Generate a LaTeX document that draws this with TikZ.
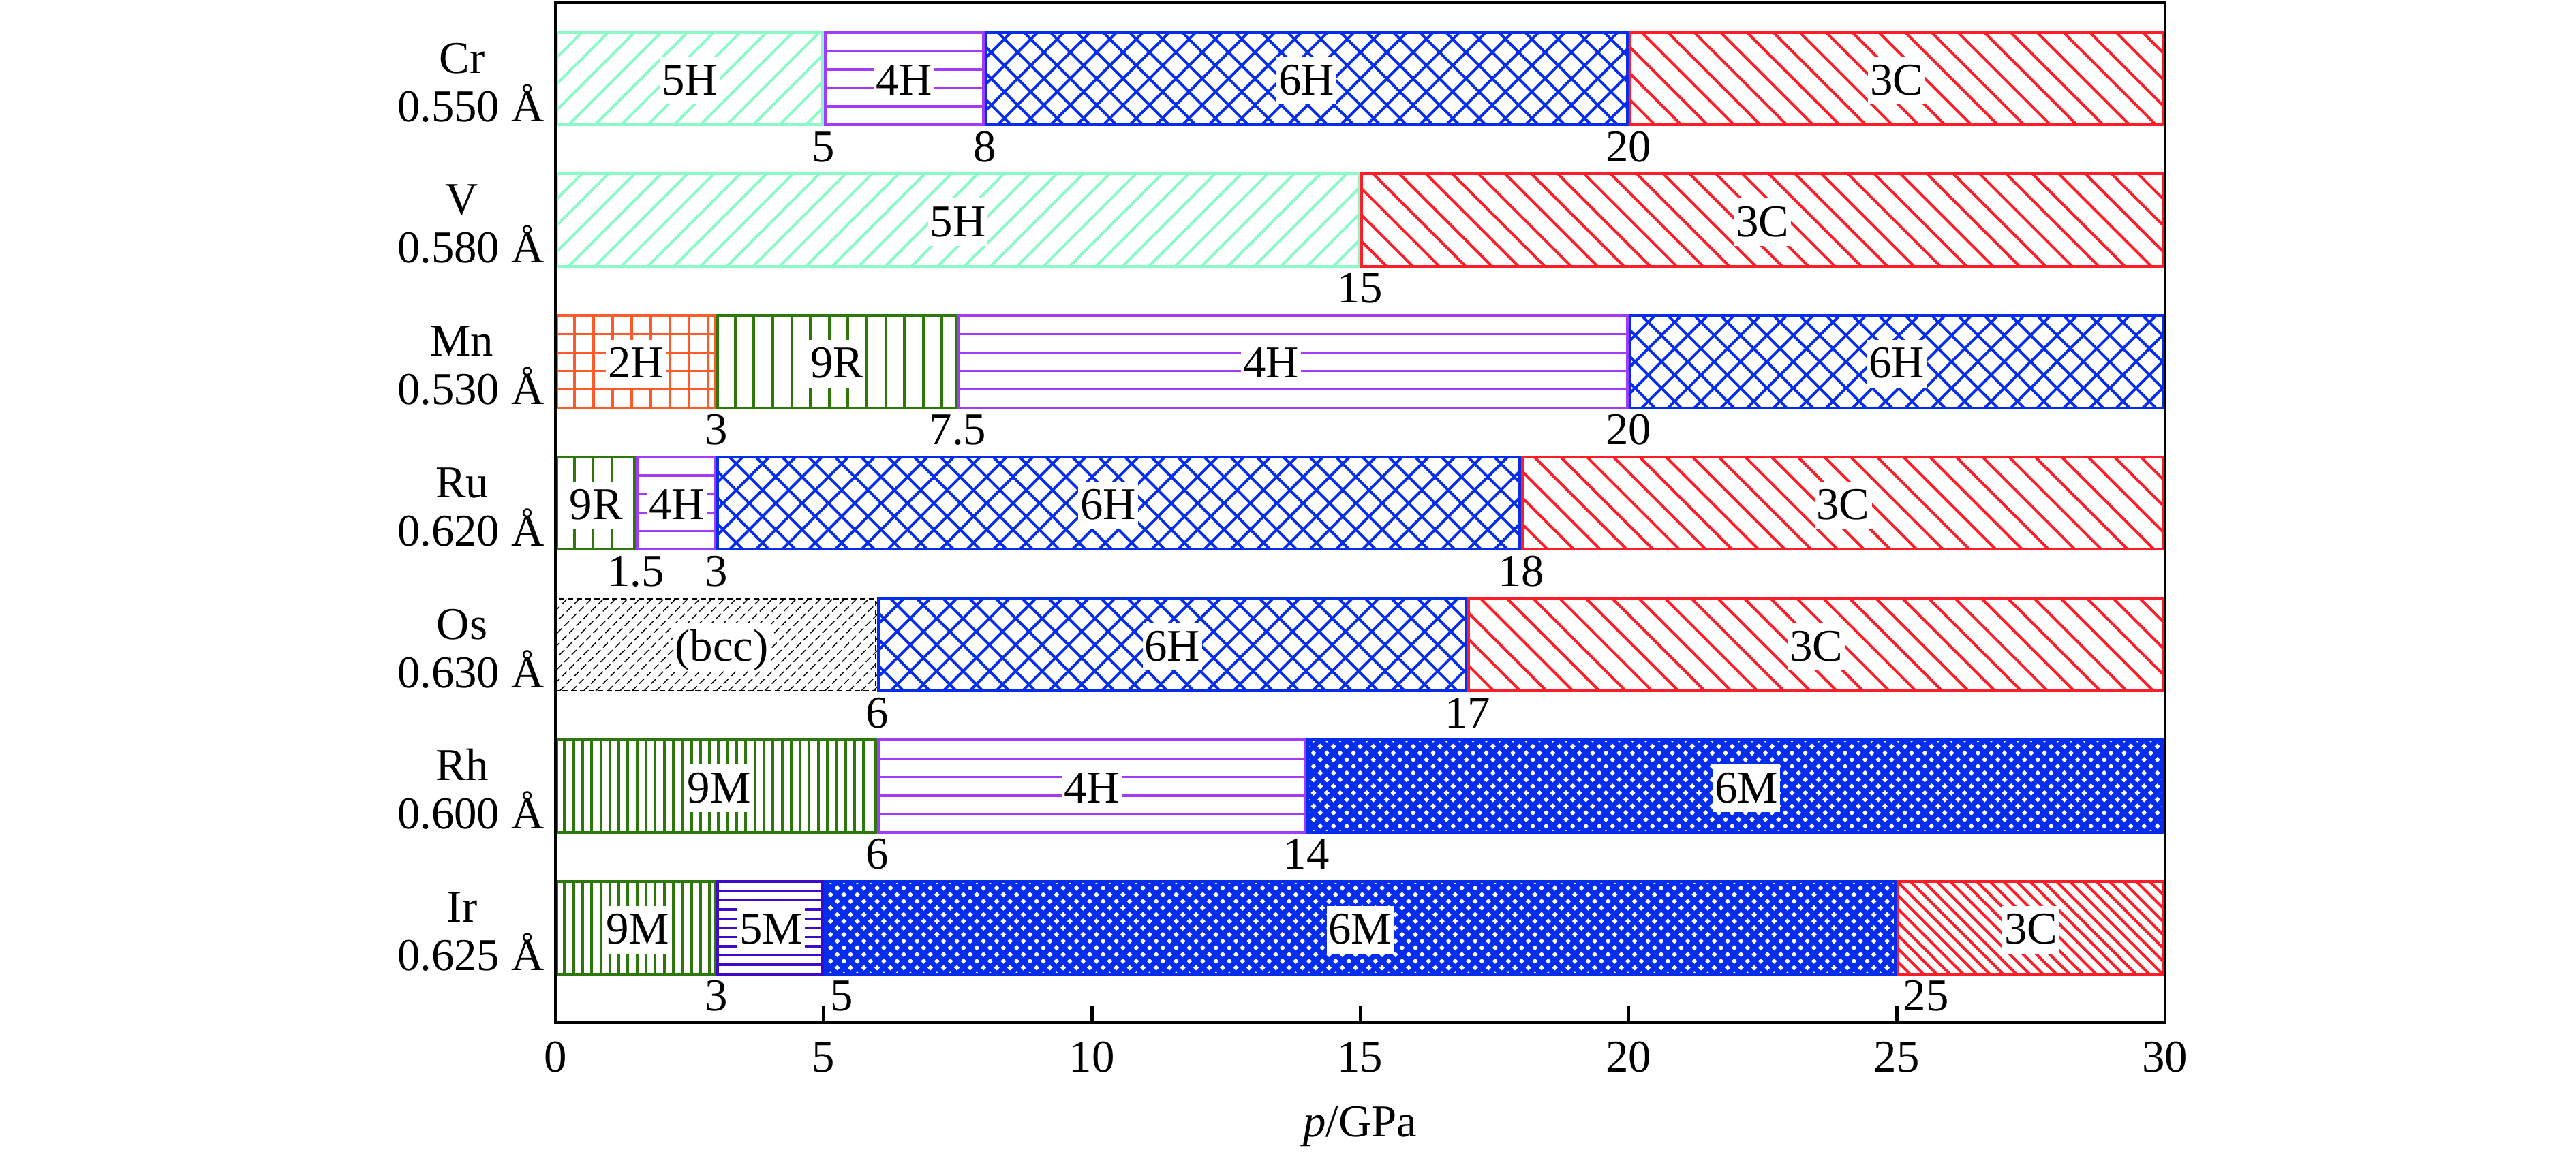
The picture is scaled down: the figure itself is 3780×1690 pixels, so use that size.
\documentclass[tikz,border=0pt]{standalone}
\usepackage{fontspec}
\setmainfont{Liberation Serif}
\definecolor{cgf}{RGB}{140,250,200}
\definecolor{cpu}{RGB}{160,60,250}
\definecolor{cbl}{RGB}{5,45,235}
\definecolor{crd}{RGB}{255,30,40}
\definecolor{cor}{RGB}{255,90,40}
\definecolor{cgr}{RGB}{45,120,10}
\definecolor{cin}{RGB}{60,10,200}
\tikzset{
  lab/.style={font=\fontsize{19pt}{23pt}\selectfont, inner sep=0pt},
  boxlab/.style={lab, fill=white, inner xsep=0.03cm, inner ysep=0pt,
    text height=0.56cm, text depth=0.14cm, anchor=base},
  hatchline/.style={line width=0.04cm},
  axisline/.style={line width=0.045cm, black},
}
% ---------- patterns (use \xa,\xb,\ya,\yb) ----------
\newcommand\patNE[2]{%
  \pgfmathsetmacro\xs{\xa-135.5}\pgfmathsetmacro\xt{\xs+#2}%
  \foreach \q in {\xs,\xt,...,\xb} \draw[#1,hatchline] (\q,\yb) -- ++(135.5,-135.5);}
\newcommand\patSE[2]{%
  \pgfmathsetmacro\xs{\xa-135.5}\pgfmathsetmacro\xt{\xs+#2}%
  \foreach \q in {\xs,\xt,...,\xb} \draw[#1,hatchline] (\q,\ya) -- ++(135.5,135.5);}
\newcommand\patfh[1]{\patNE{#1}{38.7}}
\newcommand\pattc[1]{\patSE{#1}{38.7}}
\newcommand\pattcd[1]{\patSE{#1}{19.5}}
\newcommand\patcross[1]{\patNE{#1}{38.7}\patSE{#1}{38.7}}
\newcommand\patcrossd[1]{%
  \begin{scope}[hatchline/.style={line width=0.078cm}]
  \patNE{#1}{19.5}\patSE{#1}{19.5}\end{scope}}
\newcommand\pathor[1]{%
  \foreach \k in {1,...,4} \draw[#1,line width=0.035cm] (\xa,{\ya+27.1*\k}) -- (\xb,{\ya+27.1*\k});}
\newcommand\pathord[1]{%
  \foreach \k in {1,...,9} \draw[#1,line width=0.035cm] (\xa,{\ya+13.55*\k}) -- (\xb,{\ya+13.55*\k});}
\newcommand\patV[2]{%
  \pgfmathsetmacro\xs{\xa+#2}\pgfmathsetmacro\xt{\xs+#2}\pgfmathsetmacro\xe{\xb-10}%
  \foreach \q in {\xs,\xt,...,\xe} \draw[#1,line width=0.04cm] (\q,\ya) -- (\q,\yb);}
\newcommand\patvert[1]{\patV{#1}{27.6}}
\newcommand\patvertd[1]{\patV{#1}{13.3}}
\newcommand\patgrid[1]{\patV{#1}{28}\pathor{#1}}
\newcommand\patbcc[1]{%
  \begin{scope}[hatchline/.style={line width=0.014cm, dash pattern=on 0.1cm off 0.05cm}]
  \patNE{#1}{17.7}\end{scope}}
% ---------- one phase segment ----------
\newcommand\phaseseg[6][line width=0.04cm]{%
  \pgfmathsetmacro\xa{815+78.73*(#3)}%
  \pgfmathsetmacro\xb{815+78.73*(#4)}%
  \pgfmathsetmacro\ya{47.7+207.75*(#2)}%
  \pgfmathsetmacro\yb{\ya+135.5}%
  \begin{scope}
    \clip (\xa,\ya) rectangle (\xb,\yb);
    \csname pat#5\endcsname{#6}%
  \end{scope}
  \draw[#6,#1] ({\xa+2},\ya) rectangle ({\xb-2},\yb);}
% phase label inside a bar: name,row,p,text
\newcommand\plab[4]{%
  \node[boxlab] (#1) at ({815+78.73*(#3)},{47.7+207.75*(#2)+67.75+24}) {#4};}
% boundary label below a bar: name,row,p,text
\newcommand\blab[4]{%
  \node[lab,anchor=base] (#1) at ({815+78.73*(#3)},{47.7+207.75*(#2)+135.5+54}) {#4};}
\newcommand\blabr[4]{%
  \node[lab,anchor=base west] (#1) at ({815+78.73*(#3)+9},{47.7+207.75*(#2)+135.5+54}) {#4};}
% row name and radius: row, name, radius
\newcommand\rowlab[3]{%
  \node[lab,anchor=base] (n#2) at (678,{47.7+207.75*(#1)+59.5}) {#2};
  \node[lab,anchor=base east] (r#2) at (799,{47.7+207.75*(#1)+130.5}) {#3};}
\begin{document}
\begin{tikzpicture}[x=0.01cm,y=-0.01cm]
\useasboundingbox (0,0) rectangle (3780,1690);
% Cr
\phaseseg{0}{0}{5}{fh}{cgf}
\phaseseg{0}{5}{8}{hor}{cpu}
\phaseseg{0}{8}{20}{cross}{cbl}
\phaseseg{0}{20}{30}{tc}{crd}
\plab{Cra}{0}{2.5}{5H}\plab{Crb}{0}{6.5}{4H}\plab{Crc}{0}{14}{6H}\plab{Crd}{0}{25}{3C}
\blab{Crx}{0}{5}{5}\blab{Cry}{0}{8}{8}\blab{Crz}{0}{20}{20}
\rowlab{0}{Cr}{0.550 Å}
% V
\phaseseg{1}{0}{15}{fh}{cgf}
\phaseseg{1}{15}{30}{tc}{crd}
\plab{Va}{1}{7.5}{5H}\plab{Vb}{1}{22.5}{3C}
\blab{Vx}{1}{15}{15}
\rowlab{1}{V}{0.580 Å}
% Mn
\phaseseg{2}{0}{3}{grid}{cor}
\phaseseg{2}{3}{7.5}{vert}{cgr}
\phaseseg{2}{7.5}{20}{hor}{cpu}
\phaseseg{2}{20}{30}{cross}{cbl}
\plab{Mna}{2}{1.5}{2H}\plab{Mnb}{2}{5.25}{9R}\plab{Mnc}{2}{13.34}{4H}\plab{Mnd}{2}{25}{6H}
\blab{Mnx}{2}{3}{3}\blab{Mny}{2}{7.5}{7.5}\blab{Mnz}{2}{20}{20}
\rowlab{2}{Mn}{0.530 Å}
% Ru
\phaseseg{3}{0}{1.5}{vert}{cgr}
\phaseseg{3}{1.5}{3}{hor}{cpu}
\phaseseg{3}{3}{18}{cross}{cbl}
\phaseseg{3}{18}{30}{tc}{crd}
\plab{Rua}{3}{0.76}{9R}\plab{Rub}{3}{2.26}{4H}\plab{Ruc}{3}{10.3}{6H}\plab{Rud}{3}{24}{3C}
\blab{Rux}{3}{1.5}{1.5}\blab{Ruy}{3}{3}{3}\blab{Ruz}{3}{18}{18}
\rowlab{3}{Ru}{0.620 Å}
% Os
\phaseseg[line width=0.02cm,dash pattern=on 0.08cm off 0.05cm]{4}{0}{6}{bcc}{black}
\phaseseg{4}{6}{17}{cross}{cbl}
\phaseseg{4}{17}{30}{tc}{crd}
\plab{Osa}{4}{3.1}{(bcc)}\plab{Osb}{4}{11.5}{6H}\plab{Osc}{4}{23.5}{3C}
\blab{Osx}{4}{6}{6}\blab{Osy}{4}{17}{17}
\rowlab{4}{Os}{0.630 Å}
% Rh
\phaseseg{5}{0}{6}{vertd}{cgr}
\phaseseg{5}{6}{14}{hor}{cpu}
\phaseseg{5}{14}{30}{crossd}{cbl}
\plab{Rha}{5}{3.05}{9M}\plab{Rhb}{5}{10}{4H}\plab{Rhc}{5}{22.2}{6M}
\blab{Rhx}{5}{6}{6}\blab{Rhy}{5}{14}{14}
\rowlab{5}{Rh}{0.600 Å}
% Ir
\phaseseg{6}{0}{3}{vertd}{cgr}
\phaseseg{6}{3}{5}{hord}{cin}
\phaseseg{6}{5}{25}{crossd}{cbl}
\phaseseg{6}{25}{30}{tcd}{crd}
\plab{Ira}{6}{1.53}{9M}\plab{Irb}{6}{4.02}{5M}\plab{Irc}{6}{15}{6M}\plab{Ird}{6}{27.5}{3C}
\blab{Irx}{6}{3}{3}\blabr{Iry}{6}{5}{5}\blabr{Irz}{6}{25}{25}
\rowlab{6}{Ir}{0.625 Å}
% axes
\draw[axisline] (815,3.3) rectangle (3177,1501);
\foreach \t in {5,10,...,25} \draw[axisline] ({815+78.73*\t},1501) -- ++(0,-24);
\foreach \t in {0,5,...,30} \node[lab,anchor=base] (tk\t) at ({815+78.73*\t},1573) {\t};
\node[lab,anchor=base] (xlab) at (1996,1668) {\textit{p}/GPa};
\end{tikzpicture}
\end{document}
